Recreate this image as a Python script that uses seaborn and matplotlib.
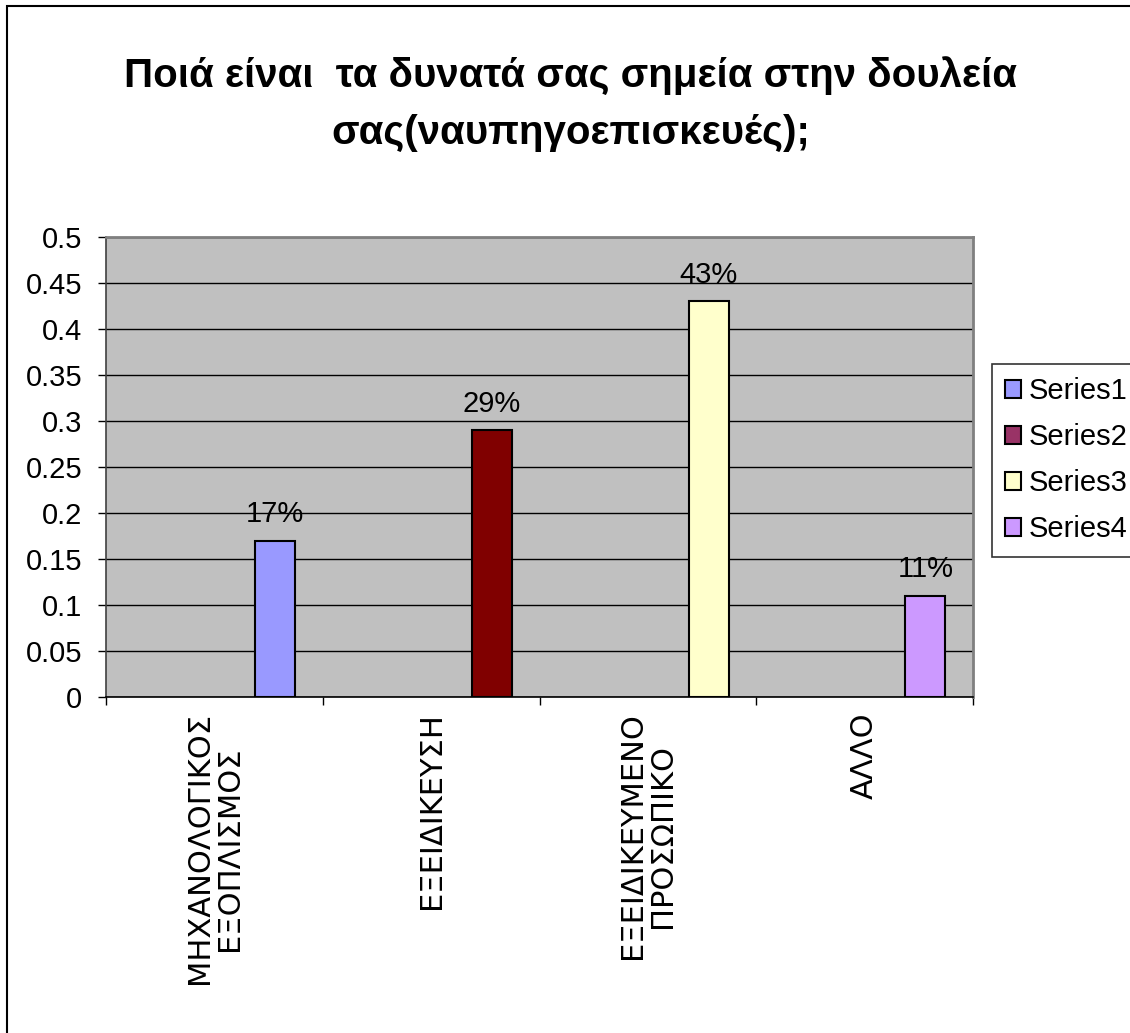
import matplotlib
matplotlib.use("Agg")
import matplotlib.pyplot as plt
from matplotlib.patches import Patch, Rectangle
from matplotlib.ticker import MultipleLocator, FixedLocator, FuncFormatter
import seaborn as sns
import pandas as pd

# Chart data
categories = ["ΜΗΧΑΝΟΛΟΓΙΚΟΣ\nΕΞΟΠΛΙΣΜΟΣ", "ΕΞΕΙΔΙΚΕΥΣΗ",
              "ΕΞΕΙΔΙΚΕΥΜΕΝΟ\nΠΡΟΣΩΠΙΚΟ", "ΑΛΛΟ"]
series = ["Series1", "Series2", "Series3", "Series4"]
values = [0.17, 0.29, 0.43, 0.11]
title = "Ποιά είναι  τα δυνατά σας σημεία στην δουλεία\nσας(ναυπηγοεπισκευές);"

bar_colors = {"Series1": "#9999FF", "Series2": "#800000",
              "Series3": "#FFFFCC", "Series4": "#CC99FF"}
legend_colors = {"Series1": "#9999FF", "Series2": "#993366",
                 "Series3": "#FFFFCC", "Series4": "#CC99FF"}

df = pd.DataFrame({"category": categories, "series": series, "value": values})

sns.set_theme(style="white")
plt.rcParams["font.family"] = ["Liberation Sans", "DejaVu Sans"]
plt.rcParams["text.color"] = "black"
plt.rcParams["xtick.color"] = "black"
plt.rcParams["ytick.color"] = "black"

fig = plt.figure(figsize=(11.30, 10.33), dpi=100)
ax = fig.add_axes([106 / 1130, 1 - 697 / 1033, 867 / 1130, 460 / 1033])

bar_width = 0.185
sns.barplot(data=df, x="category", y="value", hue="series",
            palette=bar_colors, saturation=1, dodge=False, width=bar_width,
            edgecolor="black", linewidth=1.5, legend=False, ax=ax, zorder=3)

# bars sit towards the right side of each category slot
shift = 0.28
for p in ax.patches:
    p.set_x(p.get_x() + shift)

for cont in ax.containers:
    ax.bar_label(cont, labels=[f"{v:.0%}" for v in cont.datavalues],
                 padding=9, fontsize=21, color="black")

ax.set_facecolor("#C0C0C0")
ax.set_xlim(-0.5, len(categories) - 0.5)
ax.set_ylim(0, 0.5)
ax.yaxis.set_major_locator(MultipleLocator(0.05))
ax.yaxis.set_major_formatter(FuncFormatter(
    lambda v, _: f"{v:.2f}".rstrip("0").rstrip(".") if v else "0"))
ax.grid(axis="y", color="black", linewidth=1.0, zorder=0)
ax.set_axisbelow(True)
ax.set_xlabel("")
ax.set_ylabel("")

ax.tick_params(axis="y", which="major", direction="out", length=6, width=1,
               color="black", labelcolor="black", labelsize=21, pad=11, left=True)
ax.set_xticks(range(len(categories)))
ax.set_xticklabels(categories, rotation=90, ha="center", va="top",
                   multialignment="center", fontsize=22, family="DejaVu Sans",
                   linespacing=1.05, color="black")
ax.tick_params(axis="x", which="major", length=0, pad=11)
ax.xaxis.set_minor_locator(FixedLocator([i - 0.5 for i in range(len(categories) + 1)]))
ax.tick_params(axis="x", which="minor", direction="out", length=6, width=1,
               color="black", bottom=True)

for side in ["top", "right"]:
    ax.spines[side].set_color("#808080")
    ax.spines[side].set_linewidth(2)
ax.spines["left"].set_color("#404040")
ax.spines["left"].set_linewidth(1.2)
ax.spines["bottom"].set_color("black")
ax.spines["bottom"].set_linewidth(1.2)

handles = [Patch(facecolor=legend_colors[s], edgecolor="black", linewidth=1.5, label=s)
           for s in series]
leg = fig.legend(handles=handles, loc="upper left",
                 bbox_to_anchor=(992 / 1130, 1 - 364 / 1033),
                 fontsize=21, frameon=True, fancybox=False, shadow=False,
                 handlelength=0.55, handleheight=0.55, handletextpad=0.25,
                 labelspacing=0.62, borderpad=0.45, borderaxespad=0)
leg.get_frame().set_edgecolor("black")
leg.get_frame().set_linewidth(1.2)
for t in leg.get_texts():
    t.set_color("black")

fig.text(571 / 1130, 1 - 56 / 1033, title, ha="center", va="top",
         fontsize=29, fontweight="bold", linespacing=1.62, color="black")

# chart border
fig.add_artist(Rectangle((7 / 1130, -0.1), 1.2, 1.1 - 6 / 1033,
                         transform=fig.transFigure, fill=False,
                         edgecolor="black", linewidth=1.5))

fig.savefig("out.png", dpi=100, facecolor="white")
